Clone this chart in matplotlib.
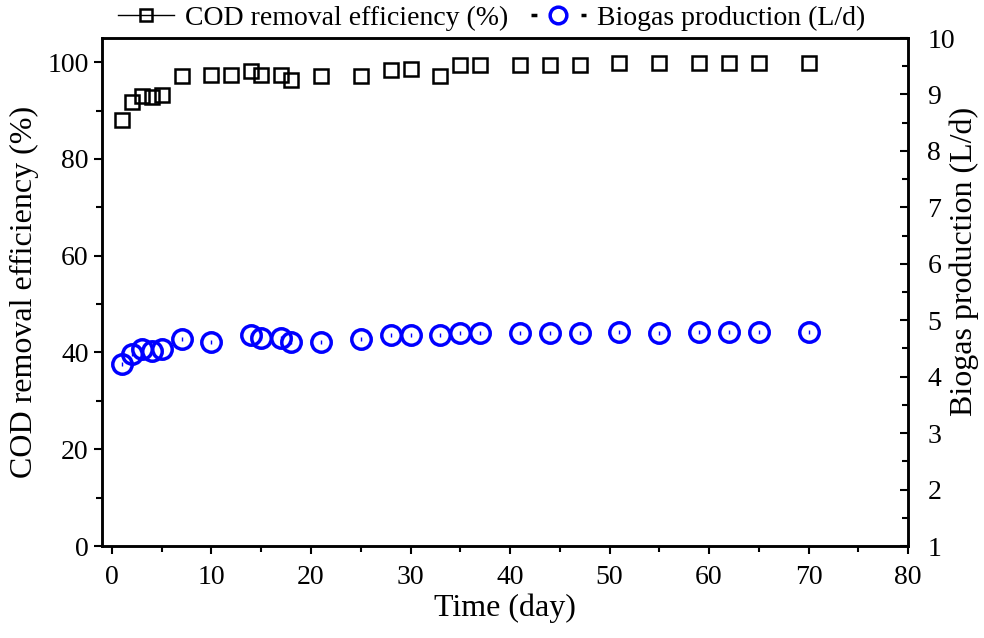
import numpy as np
import matplotlib.pyplot as plt
from matplotlib.lines import Line2D
from matplotlib.ticker import MultipleLocator

plt.rcParams['font.family'] = ['Liberation Serif', 'DejaVu Serif']

# Dias for malinger
day = [1, 2, 3, 4, 5, 7, 10, 12, 14, 15, 17, 18, 21, 25, 28, 30, 33, 35, 37,
       41, 44, 47, 51, 55, 59, 62, 65, 70]
cod = [88.0, 91.7, 93.0, 92.8, 93.3, 97.2, 97.4, 97.4, 98.2, 97.4, 97.3, 96.3,
       97.2, 97.2, 98.4, 98.6, 97.2, 99.4, 99.5, 99.4, 99.4, 99.4, 99.8, 99.8,
       99.8, 99.8, 99.8, 99.8]
day_gas = [1, 2, 3, 4, 5, 7, 10, 14, 15, 17, 18, 21, 25, 28, 30, 33, 35, 37,
           41, 44, 47, 51, 55, 59, 62, 65, 70]
biogas = [4.22, 4.40, 4.49, 4.46, 4.49, 4.67, 4.62, 4.73, 4.68, 4.68, 4.62,
          4.62, 4.67, 4.73, 4.73, 4.73, 4.77, 4.78, 4.78, 4.78, 4.78, 4.79,
          4.78, 4.80, 4.80, 4.80, 4.80]

fig = plt.figure(figsize=(9.84, 6.38), dpi=100)
ax = fig.add_axes([0.1037, 0.1442, 0.8191, 0.7962])
ax2 = ax.twinx()

ax.plot(day, cod, 's', ms=10, mfc='none', mec='black', mew=1.8)
ax2.plot(day_gas, biogas, 'o', ms=14, mfc='none', mec='blue', mew=2.5)
ax2.plot(day_gas, biogas, '|', ms=3, mec='blue', mew=1)

ax.set_xlim(-1, 80)
ax.set_ylim(0, 105)
ax2.set_ylim(1, 10)

ax.xaxis.set_major_locator(MultipleLocator(10))
ax.xaxis.set_minor_locator(MultipleLocator(5))
ax.yaxis.set_major_locator(MultipleLocator(20))
ax.yaxis.set_minor_locator(MultipleLocator(10))
ax2.yaxis.set_major_locator(MultipleLocator(1))
ax2.yaxis.set_minor_locator(MultipleLocator(0.5))

ax.tick_params(axis='both', which='major', direction='out', length=6, width=1.5,
               labelsize=20, right=False, top=False)
ax.tick_params(axis='x', which='major', pad=8)
ax.tick_params(axis='both', which='minor', direction='out', length=4, width=1.5,
               right=False, top=False)
ax2.tick_params(axis='y', which='major', direction='in', length=6, width=1.5,
                labelsize=20, pad=14)
ax2.tick_params(axis='y', which='minor', direction='in', length=4, width=1.5)

for a in (ax, ax2):
    for s in a.spines.values():
        s.set_linewidth(1.8)

ax.set_xlabel('Time (day)', fontsize=23, labelpad=2)
ax.set_ylabel('COD removal efficiency (%)', fontsize=23, labelpad=6)
ax2.set_ylabel('Biogas production (L/d)', fontsize=23)
ax2.yaxis.set_label_coords(1.052, 0.56)

h1 = Line2D([], [], color='black', lw=1, marker='s', ms=9, mfc='none',
            mec='black', mew=1.8)
h2 = Line2D([], [], color='black', lw=2.5, ls=(0, (1.7, 12.7)), marker='o',
            ms=12, mfc='none', mec='blue', mew=2.5)
fig.legend([h1, h2], ['COD removal efficiency (%)', 'Biogas production (L/d)'],
           loc='center', bbox_to_anchor=(0.5, 0.972), ncol=2, frameon=False,
           fontsize=20, handlelength=2.0, columnspacing=0.8, handletextpad=0.4,
           borderpad=0)

fig.savefig('out.png', dpi=100)
